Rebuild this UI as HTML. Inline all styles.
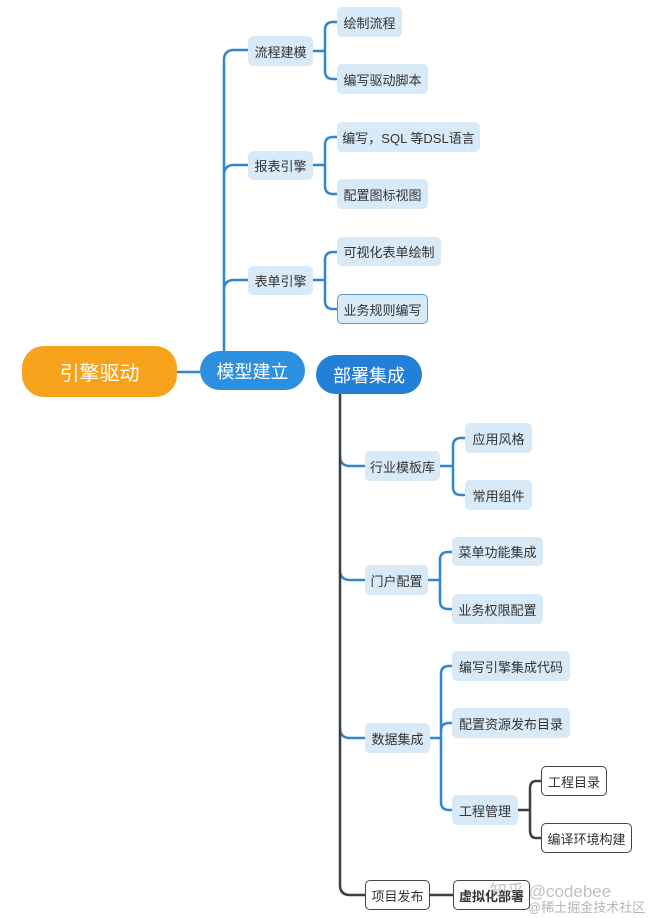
<!DOCTYPE html><html><head><meta charset="utf-8"><style>
body{margin:0;width:651px;height:918px;background:#fff;position:relative;overflow:hidden;font-family:"Liberation Sans","Noto Sans CJK SC",sans-serif}
.n{position:absolute;box-sizing:border-box;display:flex;align-items:center;justify-content:center;font-size:13px;color:#333;background:#d8e9f8;border-radius:5px}
.w{background:#fff;border:1.5px solid #444}
.p{border-radius:22px;color:#fff;font-size:18px}
svg{position:absolute;left:0;top:0}
</style></head><body>
<svg width="651" height="918" fill="none" stroke-width="2.5">
<g stroke="#2f87d0">
<path d="M177 372H200"/>
<path d="M224 351V60Q224 50 234 50H248M224 175Q224 165 234 165H248M224 290Q224 280 234 280H248"/>
<path d="M313 51H325M325 30Q325 22 333 22H337M325 30V71Q325 79 333 79H337"/>
<path d="M313 165H325M325 145Q325 137 333 137H337M325 145V186Q325 194 333 194H337"/>
<path d="M313 280H325M325 260Q325 252 333 252H337M325 260V301Q325 309 333 309H337"/>
<path d="M340 456Q340 466 350 466H365M340 570Q340 580 350 580H365M340 728Q340 738 350 738H365"/>
<path d="M440 466H453M453 446Q453 438 461 438H465M453 446V487Q453 495 461 495H465"/>
<path d="M428 580H440M440 560Q440 552 448 552H452M440 560V601Q440 609 448 609H452"/>
<path d="M430 738H441M441 674Q441 666 449 666H452M441 674V802Q441 810 449 810H452M441 731Q441 723 449 723H452"/>
</g>
<g stroke="#3a3f45">
<path d="M340 394V885Q340 895 350 895H365"/>
<path d="M518 810H530M530 789Q530 781 536 781H541M530 789V830Q530 838 536 838H541"/>
<path d="M430 895H453"/>
</g>
</svg>
<div class="n p" style="left:22px;top:346px;width:155px;height:51px;background:#f7a21b;font-size:20px">引擎驱动</div>
<div class="n p" style="left:200px;top:351px;width:105px;height:39px;background:#2d8fe0">模型建立</div>
<div class="n p" style="left:316px;top:355px;width:106px;height:39px;background:#2380d8">部署集成</div>
<div class="n" style="left:248px;top:36px;width:65px;height:30px">流程建模</div>
<div class="n" style="left:248px;top:151px;width:65px;height:29px">报表引擎</div>
<div class="n" style="left:248px;top:266px;width:65px;height:29px">表单引擎</div>
<div class="n" style="left:337px;top:7px;width:65px;height:30px">绘制流程</div>
<div class="n" style="left:337px;top:64px;width:91px;height:30px">编写驱动脚本</div>
<div class="n" style="left:337px;top:122px;width:143px;height:30px">编写，SQL 等DSL语言</div>
<div class="n" style="left:337px;top:179px;width:91px;height:30px">配置图标视图</div>
<div class="n" style="left:337px;top:237px;width:104px;height:29px">可视化表单绘制</div>
<div class="n" style="left:337px;top:294px;width:91px;height:30px;border:1.5px solid #5a9bd0">业务规则编写</div>
<div class="n" style="left:365px;top:451px;width:75px;height:30px">行业模板库</div>
<div class="n" style="left:365px;top:565px;width:63px;height:30px">门户配置</div>
<div class="n" style="left:365px;top:723px;width:65px;height:30px">数据集成</div>
<div class="n w" style="left:365px;top:880px;width:65px;height:30px">项目发布</div>
<div class="n" style="left:465px;top:423px;width:67px;height:30px">应用风格</div>
<div class="n" style="left:465px;top:480px;width:67px;height:30px">常用组件</div>
<div class="n" style="left:452px;top:537px;width:91px;height:29px">菜单功能集成</div>
<div class="n" style="left:452px;top:594px;width:91px;height:30px">业务权限配置</div>
<div class="n" style="left:452px;top:651px;width:118px;height:30px">编写引擎集成代码</div>
<div class="n" style="left:452px;top:708px;width:118px;height:30px">配置资源发布目录</div>
<div class="n" style="left:452px;top:795px;width:66px;height:30px">工程管理</div>
<div class="n w" style="left:541px;top:766px;width:66px;height:30px">工程目录</div>
<div class="n w" style="left:541px;top:823px;width:91px;height:30px">编译环境构建</div>
<div class="n w" style="left:453px;top:880px;width:77px;height:30px;font-weight:bold">虚拟化部署</div>
<div style="position:absolute;left:490px;top:877px;font-size:17px;color:rgba(150,150,150,.6)">知乎 @codebee</div>
<div style="position:absolute;left:528px;top:897px;font-size:13px;color:rgba(150,150,150,.7)">@稀土掘金技术社区</div>
</body></html>
